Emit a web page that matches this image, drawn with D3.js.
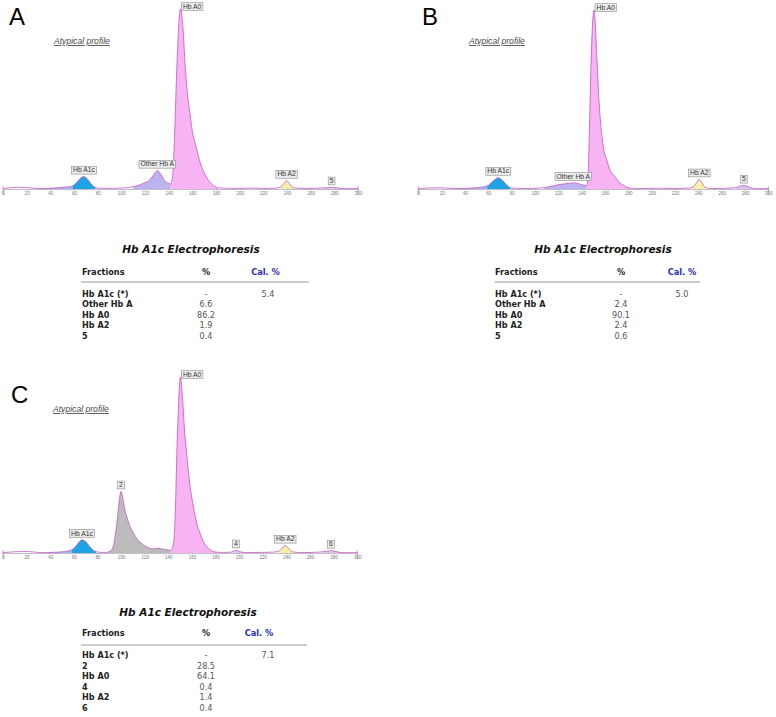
<!DOCTYPE html>
<html><head><meta charset="utf-8">
<script src="https://cdn.jsdelivr.net/npm/d3@7"></script>
<style>body{margin:0;background:#fff}svg{display:block}</style>
</head><body>
<svg id="c" width="776" height="717"></svg>
<script>
// ---------- DATA ----------
const axisTicks = [0,20,40,60,80,100,120,140,160,180,200,220,240,260,280,300];

// Electrophoresis profiles: [migration, relative height]
const profileA = [[0,0.3],[5,0.6],[12,1.0],[20,0.8],[28,0.3],[35,0.2],[42,0.5],[50,0.9],[56,1.3],[60,2.2],[63,4.2],[66,6.3],[68.5,6.9],[71,5.8],[74,3.2],[77,1.2],[80,0.5],[88,0.3],[96,0.4],[104,0.7],[110,1.3],[116,2.4],[120,3.5],[124,5],[127,7.5],[130.4,10.2],[133,8.5],[136,5.2],[139,3.5],[141.7,2.8],[143.5,8],[145,30],[146.5,60],[148,85],[149.9,100],[152,90],[154,68],[156,52],[158,42],[160,32],[163,24],[166,16],[170,9],[174,4.5],[178,1.8],[182,0.6],[188,0.4],[196,0.3],[205,0.4],[212,0.5],[220,0.3],[230,0.4],[234,0.9],[237,2.5],[239.7,4.6],[242,3],[244,1.2],[247,0.5],[255,0.3],[265,0.4],[272,0.6],[277.7,0.9],[283,0.6],[288,0.2],[295,0.2],[300,0.2]];
const profileB = [[0,0.3],[8,0.5],[18.6,0.7],[26,0.4],[34,0.2],[42,0.4],[50,0.7],[56,1.2],[60,2],[63,3.8],[66,5.5],[68.6,6.3],[71,5.5],[74,3.5],[77,1.5],[80,0.6],[88,0.3],[96,0.3],[104,0.5],[110,1],[116,1.8],[120,2.4],[126,2.9],[132.9,3.4],[137,3],[141.4,2.2],[144.3,1.9],[145.4,5],[146.6,31],[148,68.7],[150.6,100],[153.4,68.7],[155,48],[157.1,31.5],[159,22],[161.4,16.6],[164,11],[168.6,6.9],[172,3.8],[175.7,2.2],[180,0.7],[186,0.3],[195,0.3],[205,0.4],[215,0.3],[225,0.3],[232,0.5],[235.7,1.2],[238.5,3.5],[240.9,5.4],[243,3.5],[245.7,1],[250,0.3],[260,0.3],[268,0.5],[272.9,0.9],[276,1.6],[279,1.9],[282,1.5],[285.7,0.5],[292,0.2],[300,0.2]];
const profileC = [[0,0.3],[6,0.5],[14,0.8],[22,0.8],[30,0.3],[36,0.2],[44,0.4],[52,0.8],[57,1.5],[60,2.6],[63,5],[66.9,7.5],[70,6.5],[73,4],[76,1.8],[79,0.7],[84,0.3],[88,0.4],[91,1.2],[93.4,3.8],[95,10],[96.8,19],[98.5,30],[99.9,35],[101.5,31],[103,25],[104.7,20.8],[107,16],[110.4,11.3],[114,7.5],[118.8,4.7],[123,3],[127.3,2.3],[131.5,2.8],[135,2.2],[138.6,1.9],[142,1.5],[143.5,3],[145,10],[146,25],[147,52],[148.5,82],[150.2,100],[152,88],[153.5,72],[155.5,56.6],[158,40],[161.2,26.4],[164,17],[166.8,11.3],[170,6],[175.3,1.9],[179.5,0.6],[185,0.3],[192,0.4],[195,1],[197.3,1.5],[200,0.8],[205,0.3],[215,0.3],[225,0.4],[233,0.8],[236,2.5],[239,4.2],[242,2.5],[245,0.7],[250,0.3],[260,0.3],[268,0.5],[274,1],[277.7,1.3],[282,0.8],[287,0.2],[295,0.2],[300,0.2]];

// Fraction zones: [name, from, to]
const zonesA = [["A1ab",35,59],["Hb A1c",59,78],["Other Hb A",110,141.7],["Hb A0",141.7,182],["Hb A2",234,246],["5",271,287]];
const zonesB = [["A1ab",35,59],["Hb A1c",59,79],["Other Hb A",108,144.3],["Hb A0",144.3,182],["Hb A2",235,246.5],["5",272,287]];
const zonesC = [["A1ab",35,58],["Hb A1c",58,79],["2",88,142],["Hb A0",142,182],["4",192,203],["Hb A2",233,246],["6",271,287]];

// Result tables
const fracNamesA = ["Hb A1c (*)","Other Hb A","Hb A0","Hb A2","5"];
const fracPctA   = ["-","6.6","86.2","1.9","0.4"];
const calPctA    = "5.4";
const fracNamesB = ["Hb A1c (*)","Other Hb A","Hb A0","Hb A2","5"];
const fracPctB   = ["-","2.4","90.1","2.4","0.6"];
const calPctB    = "5.0";
const fracNamesC = ["Hb A1c (*)","2","Hb A0","4","Hb A2","6"];
const fracPctC   = ["-","28.5","64.1","0.4","1.4","0.4"];
const calPctC    = "7.1";

// ---------- STYLE ----------
const zoneColor = {"A1ab":"#a9b3ef","Hb A1c":"#1ea4e6","Other Hb A":"#bdb3f0","Hb A0":"#f7b3f4",
  "Hb A2":"#f8f0a6","2":"#bcbcbc","4":"#dcc9f2","5":"#dcc9f2","6":"#dcc9f2"};
const unlabeled = new Set(["A1ab"]);

const panels = [
  {letter:"A", profile:profileA, zones:zonesA, names:fracNamesA, pct:fracPctA, cal:calPctA,
   x0:3, x1:358, yBase:189, yTop:9, letterX:9, letterY:25, atypX:54, atypY:44,
   t:{titleX:191,titleY:253,headY:275,lineY:282,lineX1:81,lineX2:309,row0:296.5,step:10.5,fx:82,px:206,cx:265.5,cvx:268}},
  {letter:"B", profile:profileB, zones:zonesB, names:fracNamesB, pct:fracPctB, cal:calPctB,
   x0:418.3, x1:768.3, yBase:189, yTop:10, letterX:422, letterY:25, atypX:469, atypY:44,
   t:{titleX:603,titleY:253,headY:275,lineY:282,lineX1:495,lineX2:700,row0:296.5,step:10.5,fx:495,px:621,cx:682,cvx:682}},
  {letter:"C", profile:profileC, zones:zonesC, names:fracNamesC, pct:fracPctC, cal:calPctC,
   x0:3, x1:357.3, yBase:553, yTop:377, letterX:11, letterY:403, atypX:53, atypY:412,
   t:{titleX:188,titleY:616,headY:636,lineY:645,lineX1:81,lineX2:307,row0:658,step:10.6,fx:82,px:206,cx:259,cvx:268}}
];

const svg = d3.select("#c");
const defs = svg.append("defs");
let clipId = 0;

panels.forEach(p => {
  const g = svg.append("g");
  const x = d3.scaleLinear().domain([0,300]).range([p.x0,p.x1]);
  const y = d3.scaleLinear().domain([0,100]).range([p.yBase,p.yTop]);

  // Letter
  g.append("text").attr("x",p.letterX).attr("y",p.letterY)
    .attr("font-family","'Liberation Sans', Arial, sans-serif").attr("font-size",24)
    .attr("fill","#000").text(p.letter);
  // Atypical profile
  g.append("text").attr("x",p.atypX).attr("y",p.atypY)
    .attr("font-family","'Liberation Sans', Arial, sans-serif").attr("font-size",8.6)
    .attr("font-style","italic").attr("text-decoration","underline")
    .attr("fill","#4a4a4a").text("Atypical profile");

  // Axis
  const axis = d3.axisBottom(x).tickValues(axisTicks).tickSize(1.5).tickPadding(1.5);
  const ag = g.append("g").attr("transform",`translate(0,${p.yBase})`).call(axis);
  ag.select(".domain").attr("stroke","#a8a0b0").attr("stroke-width",0.7);
  ag.selectAll(".tick line").attr("stroke","#999").attr("stroke-width",0.5);
  ag.selectAll(".tick text").attr("font-size",4.5).attr("fill","#777")
    .attr("font-family","'Liberation Sans', Arial, sans-serif");
  // end markers
  [0,300].forEach(v => g.append("line").attr("x1",x(v)).attr("x2",x(v))
    .attr("y1",p.yBase-3).attr("y2",p.yBase+6).attr("stroke","#888").attr("stroke-width",0.6));

  const area = d3.area().x(d=>x(d[0])).y0(p.yBase).y1(d=>y(d[1])).curve(d3.curveMonotoneX);
  const line = d3.line().x(d=>x(d[0])).y(d=>y(d[1])).curve(d3.curveMonotoneX);

  // zone fills
  p.zones.forEach(z => {
    const id = "clip"+(clipId++);
    defs.append("clipPath").attr("id",id).append("rect")
      .attr("x",x(z[1])).attr("width",x(z[2])-x(z[1]))
      .attr("y",p.yTop-20).attr("height",p.yBase-p.yTop+20);
    g.append("path").datum(p.profile).attr("d",area)
      .attr("clip-path",`url(#${id})`).attr("fill",zoneColor[z[0]]).attr("stroke","none");
  });
  // profile line
  g.append("path").datum(p.profile).attr("d",line)
    .attr("fill","none").attr("stroke","#c257c2").attr("stroke-width",0.8);

  // labels
  p.zones.filter(z=>!unlabeled.has(z[0])).forEach(z => {
    const pts = p.profile.filter(d=>d[0]>=z[1] && d[0]<=z[2]);
    const pk = pts.reduce((a,b)=> b[1]>a[1]?b:a);
    const lg = g.append("g");
    const txt = lg.append("text").attr("font-family","'Liberation Sans', Arial, sans-serif")
      .attr("font-size",6.8).attr("fill","#333").text(z[0]);
    const w = txt.node().getComputedTextLength();
    const bw = w+3, bh = 7.8;
    let bx, by;
    const px = x(pk[0]), py = y(pk[1]);
    if (py - 2.5 - bh < p.yTop - 5) { bx = px + 1; by = py - 6.3; }
    else { bx = px - bw/2; by = py - 2.5 - bh; }
    lg.insert("rect","text").attr("x",bx).attr("y",by).attr("width",bw).attr("height",bh)
      .attr("fill","#ececec").attr("stroke","#8a8a8a").attr("stroke-width",0.6);
    txt.attr("x",bx+1.5).attr("y",by+bh-1.8);
  });

  // table
  const t = p.t;
  const tf = "'DejaVu Sans', Verdana, sans-serif";
  g.append("text").attr("x",t.titleX).attr("y",t.titleY).attr("text-anchor","middle")
    .attr("font-family",tf).attr("font-size",10.5).attr("font-weight","bold").attr("font-style","italic")
    .attr("fill","#111").text("Hb A1c Electrophoresis");
  g.append("text").attr("x",t.fx).attr("y",t.headY).attr("font-family",tf).attr("font-size",8.2)
    .attr("font-weight","bold").attr("fill","#222").text("Fractions");
  g.append("text").attr("x",t.px).attr("y",t.headY).attr("text-anchor","middle").attr("font-family",tf)
    .attr("font-size",8.2).attr("font-weight","bold").attr("fill","#222").text("%");
  g.append("text").attr("x",t.cx).attr("y",t.headY).attr("text-anchor","middle").attr("font-family",tf)
    .attr("font-size",8.2).attr("font-weight","bold").attr("fill","#2a2ab8").text("Cal. %");
  g.append("line").attr("x1",t.lineX1).attr("x2",t.lineX2).attr("y1",t.lineY).attr("y2",t.lineY)
    .attr("stroke","#999").attr("stroke-width",1);
  p.names.forEach((n,i) => {
    const yy = t.row0 + i*t.step;
    g.append("text").attr("x",t.fx).attr("y",yy).attr("font-family",tf).attr("font-size",8.1)
      .attr("font-weight","bold").attr("fill","#222").text(n);
    g.append("text").attr("x",t.px).attr("y",yy).attr("text-anchor","middle").attr("font-family",tf)
      .attr("font-size",8.1).attr("fill","#555").text(p.pct[i]);
    if (i===0) g.append("text").attr("x",t.cvx).attr("y",yy).attr("text-anchor","middle").attr("font-family",tf)
      .attr("font-size",8.1).attr("fill","#555").text(p.cal);
  });
});
</script>
</body></html>
